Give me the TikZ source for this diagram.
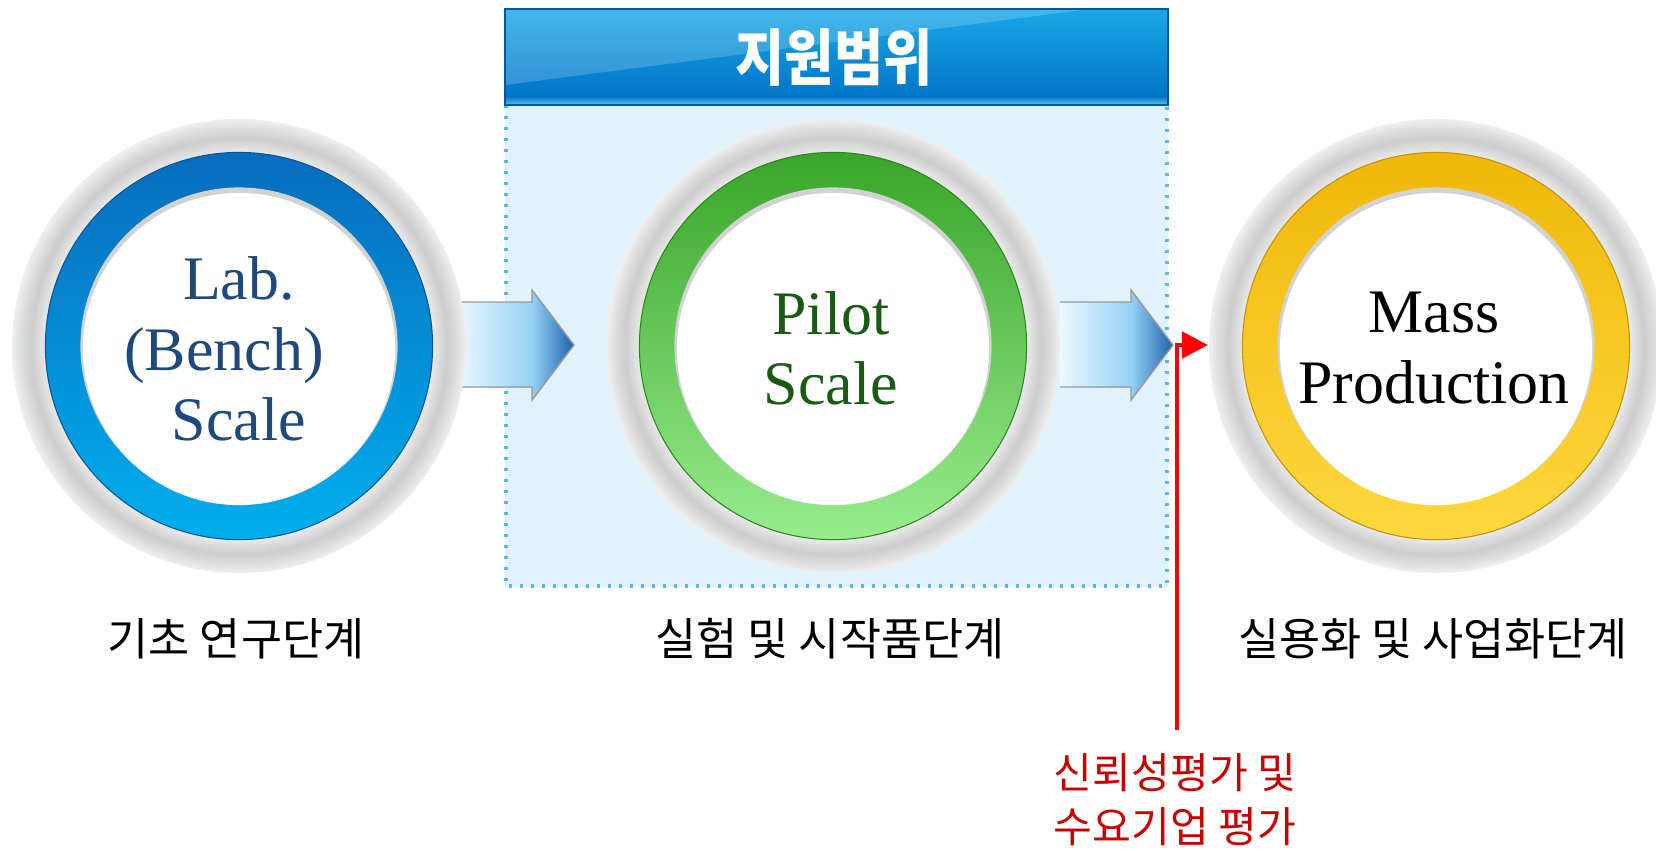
\documentclass[tikz,border=0pt]{standalone}
\usepackage{fontspec}
\setmainfont{Liberation Serif}
\newfontfamily\kofont{Noto Sans CJK KR}
\usetikzlibrary{arrows.meta,positioning,shadings}

\definecolor{labblue}{RGB}{31,73,125}
\definecolor{pilotgreen}{RGB}{25,90,20}
\definecolor{ringblueA}{RGB}{8,108,190}
\definecolor{ringblueB}{RGB}{0,174,236}
\definecolor{ringgreenA}{RGB}{56,166,40}
\definecolor{ringgreenB}{RGB}{152,236,142}
\definecolor{ringgoldA}{RGB}{240,184,10}
\definecolor{ringgoldB}{RGB}{253,216,62}
\definecolor{scopefill}{RGB}{226,242,252}
\definecolor{scopedot}{RGB}{95,180,230}
\definecolor{bannerA}{RGB}{25,168,232}
\definecolor{bannerB}{RGB}{0,112,196}
\definecolor{arwA}{RGB}{236,247,254}
\definecolor{arwB}{RGB}{150,210,245}
\definecolor{arwC}{RGB}{28,98,172}
\definecolor{evalred}{RGB}{200,0,0}

\pgfdeclareradialshading{halofade}{\pgfpoint{0bp}{0bp}}{color(0bp)=(white); color(21bp)=(gray!12); color(22.9bp)=(gray!40); color(24.2bp)=(gray!24); color(25bp)=(gray!12); color(50bp)=(gray!12)}

\tikzset{
  halo/.style={circle, minimum size=4.54cm, inner sep=0pt, shade, shading=halofade},
  ring/.style={circle, minimum size=3.87cm, inner sep=0pt, line width=0.3pt},
  stagetext/.style={align=center, font=\fontsize{17.6pt}{20pt}\selectfont},
  phaselabel/.style={font=\kofont\fontsize{12.7pt}{15pt}\selectfont},
  evaltext/.style={align=center, text=evalred, font=\kofont\fontsize{12pt}{15.4pt}\selectfont},
  arwline/.style={draw=gray!80, line width=0.4pt},
  evalarrow/.style={draw=red, line width=1.4pt, -{Triangle[length=0.26cm,width=0.26cm]}}
}

% block arrow: #1 start x, #2 tip x
\newcommand{\blockarrow}[2]{%
  \shade[left color=arwA, right color=arwB] (#1,302) rectangle (#2-42,387);
  \shade[left color=arwB, right color=arwC] (#2-42,290) -- (#2,345) -- (#2-42,400) -- cycle;
  \draw[arwline] (#1,302) -- (#2-42,302) -- (#2-42,290) -- (#2,345) -- (#2-42,400) -- (#2-42,387) -- (#1,387);
}
% stage ring: #1 name, #2 x, #3 top colour, #4 bottom colour
\newcommand{\stage}[4]{%
  \node[halo] (#1halo) at (#2,346) {};
  \node[ring, top color=#3, bottom color=#4, draw=#3!80!black] (#1ring) at (#2,346) {};
  \fill[gray!35] (#2,346) circle (1.585cm);
  \fill[white] (#2,349) circle (1.56cm);
}

\begin{document}
\begin{tikzpicture}[x=0.01cm, y=-0.01cm]
    \useasboundingbox (0,0) rectangle (1656,850);
    % support scope
    \fill[scopefill] (505,105) rectangle (1168,587);
    \draw[scopedot, line width=0.035cm, dash pattern=on 0.03cm off 0.08cm] (506,105) -- (506,586) -- (1167,586) -- (1167,105);
    \shade[top color=bannerA, bottom color=bannerB] (505,9) rectangle (1168,105);
    \fill[white, opacity=0.18] (505,9) -- (505,85) -- (1090,9) -- cycle;
    \shade[top color=bannerB, bottom color=bannerA!70] (505,96) rectangle (1168,105);
    \draw[bannerB!80!black, line width=0.5pt] (505,9) rectangle (1168,105);
    \node[font=\kofont\bfseries\fontsize{15.2pt}{17pt}\selectfont, text=white] (scope) at (834,57) {\scalebox{1}[1.15]{지원범위}};
    % arrows
    \blockarrow{458}{574}
    \blockarrow{1060}{1173}
    % stages
    \stage{lab}{239}{ringblueA}{ringblueB}
    \stage{pilot}{833}{ringgreenA}{ringgreenB}
    \stage{mass}{1436}{ringgoldA}{ringgoldB}
    \node[stagetext, text=labblue] (lab) at (224,349) {\hspace*{0.3cm}Lab.\\(Bench)\\\hspace*{0.3cm}Scale};
    \node[stagetext, text=pilotgreen] (pilot) at (831,348) {Pilot\\Scale};
    \node[stagetext] (mass) at (1434,348) {Mass\\Production};
    % phase labels
    \node[phaselabel] (labcap) at (236,639) {기초 연구단계};
    \node[phaselabel] (pilotcap) at (830,639) {실험 및 시작품단계};
    \node[phaselabel] (masscap) at (1433,639) {실용화 및 사업화단계};
    % evaluation
    \node[evaltext] (eval) at (1175,800) {신뢰성평가 및\\수요기업 평가};
    \coordinate (redfoot) at (1177,730);
    \coordinate (redtip) at (1208,345);
    \draw[evalarrow] (redfoot) |- (redtip);
\end{tikzpicture}
\end{document}
